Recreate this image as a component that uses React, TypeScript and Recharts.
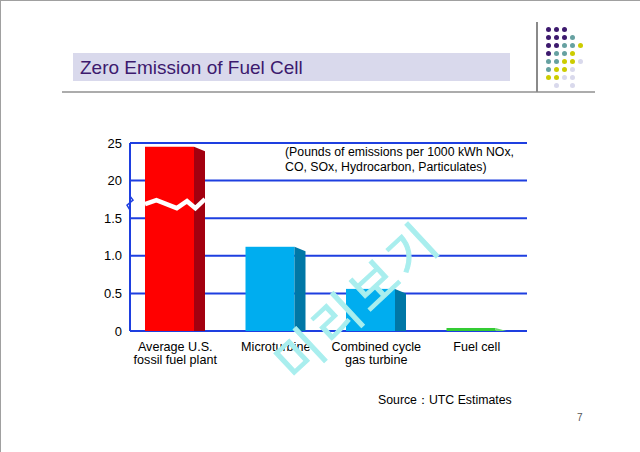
import { BarChart, Bar, XAxis, YAxis, CartesianGrid, ReferenceLine } from 'recharts';

const categories = ['Average U.S.\nfossil fuel plant', 'Microturbine', 'Combined cycle\ngas turbine', 'Fuel cell'];
const emissions = [24.5, 1.12, 0.56, 0.04];
const yTickValues = [0, 0.5, 1.0, 1.5, 20, 25];
const yTickLabels = ['0', '0.5', '1.0', '1.5', '20', '25'];
const noteLines = ['(Pounds of emissions per 1000 kWh NOx,', 'CO, SOx, Hydrocarbon, Particulates)'];
const title = 'Zero Emission of Fuel Cell';
const source = 'Source：UTC Estimates';
const watermark = '미리보기';

const frontColors = ['#ff0000', '#00adef', '#00adef', '#33cc33'];
const sideColors = ['#a3000f', '#0077a6', '#0077a6', '#6ad86a'];

// broken axis: 0..1.5 takes 3 steps, 20..25 takes one step on top
const toDisplay = (v: number) => (v <= 1.5 ? v * 2 : 4 + (v - 20) / 5);
const BREAK_AT = 3.4;
const displayTicks = yTickValues.map(toDisplay);

const data = categories.map((name, i) => ({ name, value: toDisplay(emissions[i]), raw: emissions[i] }));

const FONT = '"Liberation Sans", Arial, sans-serif';
const BLUE = '#1e3fe0';
const SIDE = 11;

// slide decoration dots (P purple, T teal, Y yellow, L lavender)
const dotRows = ['PPP', 'PPPT', 'PPTTY', 'PTTY', 'TTYYL', 'TYYL', 'YYLL', '.L.L'];
const dotColors: Record<string, string> = { P: '#3d1a6e', T: '#66a1a1', Y: '#cccc00', L: '#d9d9ec' };

function Bar3D(props: any) {
  const { x, y, width, height, index, payload } = props;
  const fw = width - SIDE;
  const slope = Math.min(4.5, height);
  const bottom = y + height;
  let zig = null;
  if (payload.raw > 1.5) {
    const yb = y + height * (1 - BREAK_AT / payload.value);
    const pts = [
      [0, 1], [0.19, -3], [0.53, 5], [0.7, -2], [0.84, 5], [1, -4],
    ]
      .map(([fx, dy]) => `${x + fx * width},${yb + dy}`)
      .join(' ');
    zig = <polyline points={pts} fill="none" stroke="#fff" strokeWidth={4.5} />;
  }
  return (
    <g>
      <rect x={x} y={y} width={fw} height={height} fill={frontColors[index]} />
      <polygon
        points={`${x + fw},${y} ${x + width},${y + slope} ${x + width},${bottom} ${x + fw},${bottom}`}
        fill={sideColors[index]}
      />
      {zig}
    </g>
  );
}

function CategoryTick(props: any) {
  const { x, y, payload } = props;
  const lines = String(payload.value).split('\n');
  return (
    <text x={x} y={y} textAnchor="middle" fontFamily={FONT} fontSize={12.6} fill="#000">
      {lines.map((l, i) => (
        <tspan key={i} x={x} dy={i === 0 ? 12 : 12.5}>
          {l}
        </tspan>
      ))}
    </text>
  );
}

function AxisBreak(props: any) {
  const { x1, y1 } = props;
  return (
    <g>
      <rect x={x1 - 2} y={y1 - 7} width={6} height={14} fill="#fff" />
      <polyline
        points={`${x1},${y1 - 7} ${x1 + 3},${y1 - 3} ${x1 - 3},${y1 + 2} ${x1},${y1 + 7}`}
        fill="none"
        stroke={BLUE}
        strokeWidth={1.5}
      />
    </g>
  );
}

export default function App() {
  return (
    <div
      style={{
        position: 'absolute',
        left: 0,
        top: 0,
        width: 640,
        height: 452,
        background: '#fff',
        overflow: 'hidden',
        fontFamily: FONT,
      }}
    >
      <div style={{ position: 'absolute', left: 0, top: 0, width: 640, height: 1, background: '#a0a0a0' }} />
      <div style={{ position: 'absolute', left: 0, top: 0, width: 1, height: 452, background: '#a0a0a0' }} />

      <div style={{ position: 'absolute', left: 73, top: 53, width: 437, height: 28, background: '#d9d9ec' }} />
      <div style={{ position: 'absolute', left: 80, top: 56, fontSize: 19, lineHeight: '23px', color: '#3d1a6e' }}>
        {title}
      </div>
      <div style={{ position: 'absolute', left: 62, top: 91, width: 533, height: 2, background: '#acacac' }} />
      <div style={{ position: 'absolute', left: 536, top: 22, width: 2, height: 70, background: '#8a8a8a' }} />
      {dotRows.map((row, r) =>
        row.split('').map((c, col) =>
          c === '.' ? null : (
            <div
              key={`${r}-${col}`}
              style={{
                position: 'absolute',
                left: 548 + col * 8.1 - 2.5,
                top: 29 + r * 8.1 - 2.5,
                width: 5,
                height: 5,
                borderRadius: '50%',
                background: dotColors[c],
              }}
            />
          )
        )
      )}

      <div style={{ position: 'absolute', left: 0, top: 0 }}>
        <BarChart width={640} height={452} data={data} margin={{ top: 143, right: 113, bottom: 91, left: 100 }}>
          <CartesianGrid vertical={false} stroke={BLUE} strokeWidth={2} strokeOpacity={1} />
          <XAxis
            dataKey="name"
            axisLine={false}
            tickLine={false}
            height={30}
            interval={0}
            padding={{ left: -5, right: 0 }}
            tick={<CategoryTick />}
          />
          <YAxis
            type="number"
            domain={[0, 5]}
            ticks={displayTicks}
            tickFormatter={(v: number) => yTickLabels[displayTicks.indexOf(v)]}
            width={30}
            axisLine={{ stroke: BLUE, strokeWidth: 2 }}
            tickLine={false}
            tick={{ fill: '#000', fontSize: 13, fontFamily: FONT }}
          />
          <YAxis
            yAxisId="r"
            orientation="right"
            type="number"
            domain={[0, 5]}
            width={0}
            tick={false}
            tickLine={false}
            axisLine={{ stroke: BLUE, strokeWidth: 2 }}
          />
          <Bar dataKey="value" barSize={60} shape={<Bar3D />} isAnimationActive={false} />
          <ReferenceLine y={BREAK_AT} stroke="none" shape={<AxisBreak />} />
        </BarChart>
      </div>

      <div style={{ position: 'absolute', left: 285, top: 145, fontSize: 12.3, lineHeight: '15px', color: '#000' }}>
        {noteLines.map((l, i) => (
          <div key={i}>{l}</div>
        ))}
      </div>

      <div style={{ position: 'absolute', left: 378, top: 392, fontSize: 12.3, color: '#000' }}>{source}</div>
      <div style={{ position: 'absolute', left: 577, top: 412, fontSize: 10, color: '#555' }}>7</div>

      <svg width={640} height={452} style={{ position: 'absolute', left: 0, top: 0, pointerEvents: 'none' }}>
        <text
          x={355}
          y={298}
          textAnchor="middle"
          dominantBaseline="central"
          transform="rotate(-43 355 298)"
          fontFamily='"Noto Sans CJK KR", sans-serif'
          fontWeight={400}
          fontSize={50}
          letterSpacing={5}
          fill="#a9eeee"
          stroke="#a9eeee"
          strokeWidth={1}
        >
          {watermark}
        </text>
      </svg>
    </div>
  );
}
